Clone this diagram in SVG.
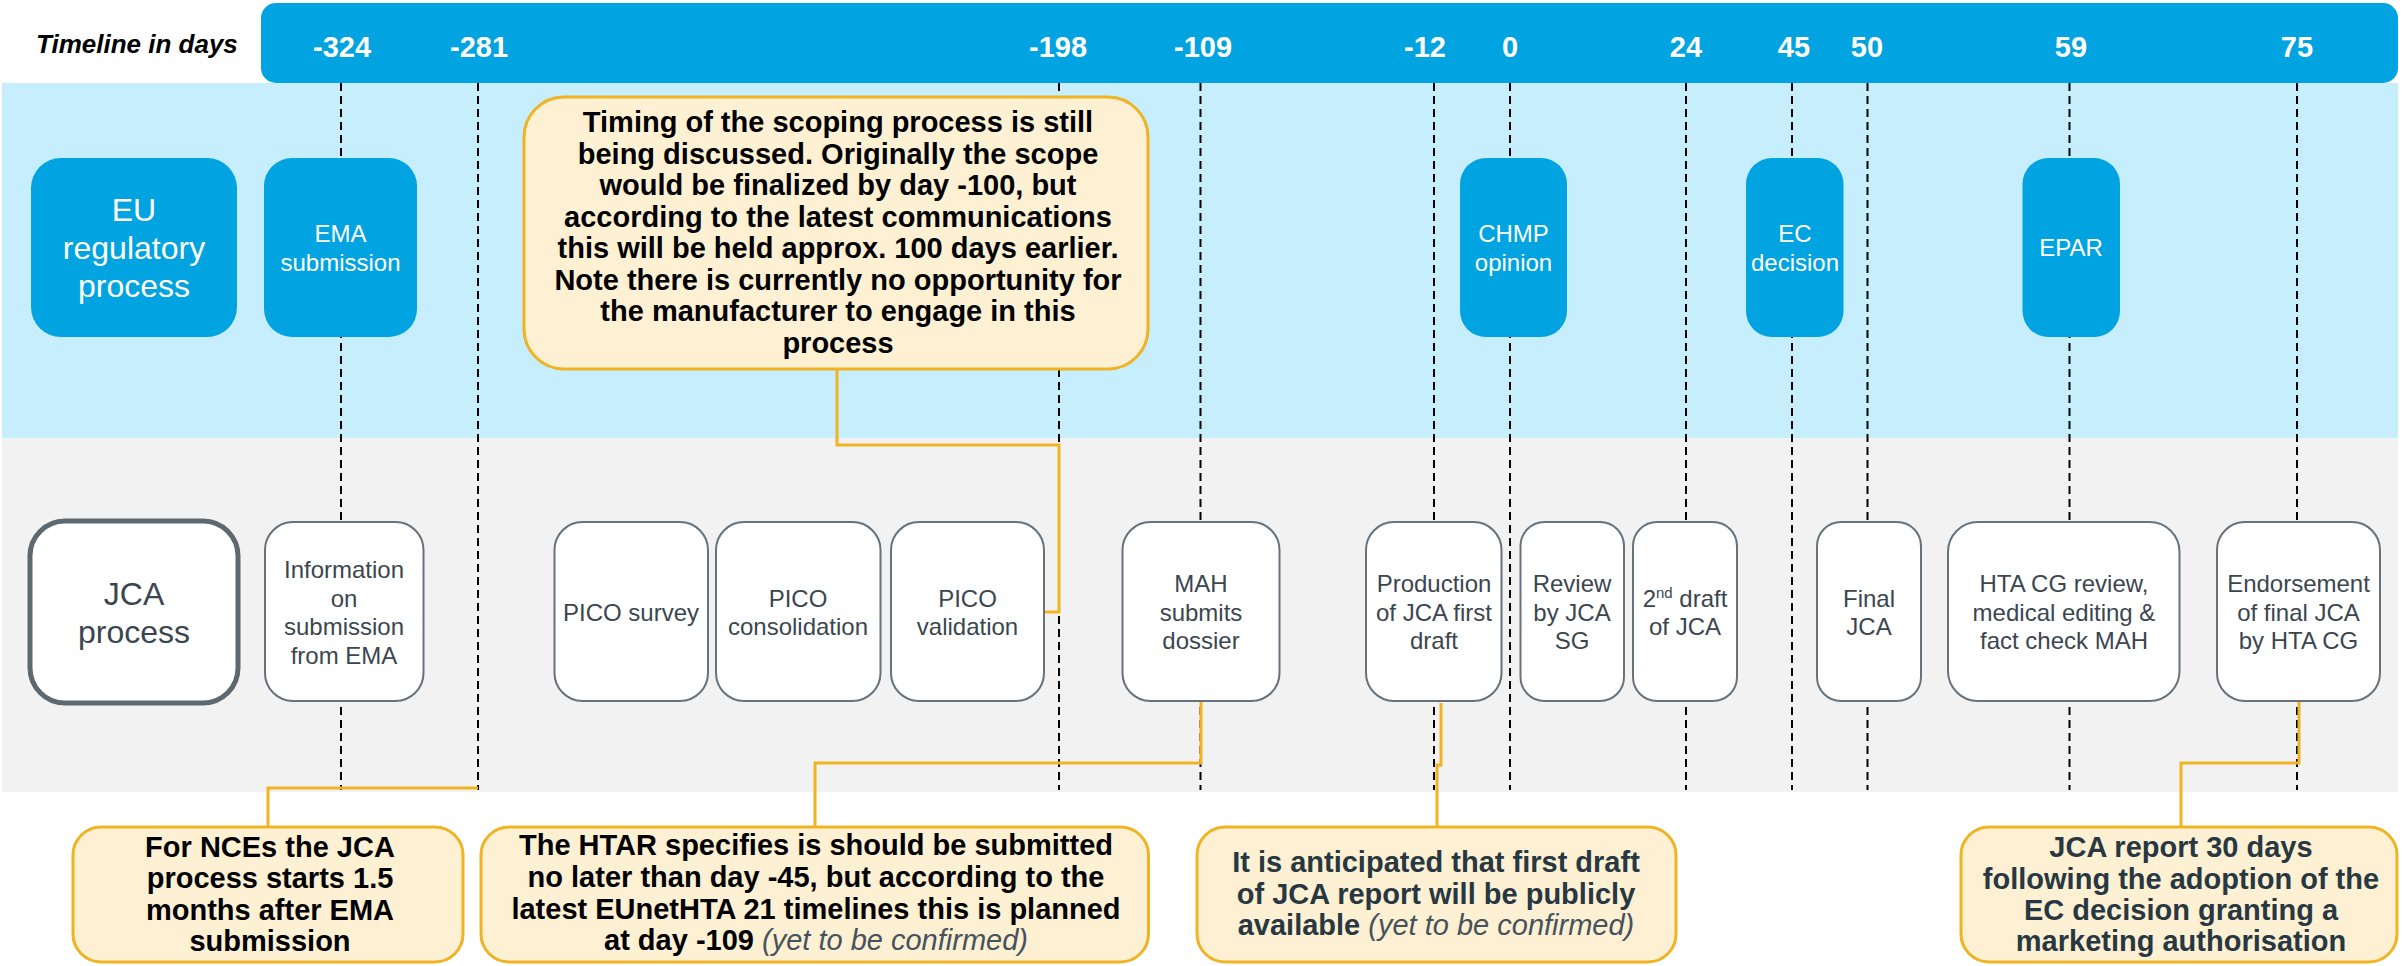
<svg xmlns="http://www.w3.org/2000/svg" width="2402" height="966" viewBox="0 0 2402 966">
<style>
text{font-family:"Liberation Sans",Arial,sans-serif}
.hdr{fill:#fff;font-size:29px;font-weight:bold;text-anchor:middle}
.reg rect{fill:#01A3E0}
.reg text{fill:#fff;font-size:24px;text-anchor:middle}
.jca rect{fill:#fff;stroke:#66727C;stroke-width:2}
.jca text{fill:#3B4650;font-size:24px;text-anchor:middle}
.reg text.big,.jca text.big{font-size:32px}
.note rect{fill:#FDF0D3;stroke:#F0B323;stroke-width:3}
.note text{font-size:29px;font-weight:bold;text-anchor:middle;fill:#000}
.note.dk text{fill:#283842}
.it{font-style:italic;font-weight:normal;fill:#46525C}
.dash{stroke:#000;stroke-width:2;stroke-dasharray:8 5}
.conn path{fill:none;stroke:#F0B323;stroke-width:3}
</style>
<rect x="2" y="83" width="2396" height="355" fill="#C6EEFD"/>
<rect x="2" y="438" width="2396" height="354" fill="#F2F2F2"/>
<g id="timeline">
<rect x="261" y="3" width="2137" height="80" rx="15" fill="#01A3E0"/>
<text x="36" y="53" font-size="26" font-weight="bold" font-style="italic" fill="#000">Timeline in days</text>
<text class="hdr" x="342" y="57">-324</text>
<text class="hdr" x="479" y="57">-281</text>
<text class="hdr" x="1058" y="57">-198</text>
<text class="hdr" x="1203" y="57">-109</text>
<text class="hdr" x="1425" y="57">-12</text>
<text class="hdr" x="1510" y="57">0</text>
<text class="hdr" x="1686" y="57">24</text>
<text class="hdr" x="1794" y="57">45</text>
<text class="hdr" x="1867" y="57">50</text>
<text class="hdr" x="2071" y="57">59</text>
<text class="hdr" x="2297" y="57">75</text>
</g>
<g id="gridlines">
<line class="dash" x1="341" y1="83" x2="341" y2="790"/>
<line class="dash" x1="478" y1="83" x2="478" y2="790"/>
<line class="dash" x1="1059" y1="83" x2="1059" y2="790"/>
<line class="dash" x1="1200.5" y1="83" x2="1200.5" y2="790"/>
<line class="dash" x1="1434" y1="83" x2="1434" y2="790"/>
<line class="dash" x1="1510" y1="83" x2="1510" y2="790"/>
<line class="dash" x1="1686" y1="83" x2="1686" y2="790"/>
<line class="dash" x1="1792" y1="83" x2="1792" y2="790"/>
<line class="dash" x1="1867.5" y1="83" x2="1867.5" y2="790"/>
<line class="dash" x1="2069.5" y1="83" x2="2069.5" y2="790"/>
<line class="dash" x1="2297" y1="83" x2="2297" y2="790"/>
</g>
<g id="connectors" class="conn">
<path d="M837 369 V445 H1059 V612 H1044"/>
<path d="M268 827 V788 H478"/>
<path d="M815 827 V763 H1201 V701"/>
<path d="M1437 827 V765 H1441 V703"/>
<path d="M2181 827 V763 H2299 V701"/>
</g>
<g id="eu-regulatory" class="reg">
<rect x="31" y="158" width="206" height="179" rx="30"/>
<text class="big" x="134" y="221">EU</text>
<text class="big" x="134" y="259">regulatory</text>
<text class="big" x="134" y="297">process</text>
</g>
<g id="ema-submission" class="reg">
<rect x="264" y="158" width="153" height="179" rx="28"/>
<text x="340.5" y="242">EMA</text>
<text x="340.5" y="271">submission</text>
</g>
<g id="chmp-opinion" class="reg">
<rect x="1460" y="158" width="107" height="179" rx="26"/>
<text x="1513.5" y="242">CHMP</text>
<text x="1513.5" y="271">opinion</text>
</g>
<g id="ec-decision" class="reg">
<rect x="1746" y="158" width="97.5" height="179" rx="26"/>
<text x="1795" y="242">EC</text>
<text x="1795" y="271">decision</text>
</g>
<g id="epar" class="reg">
<rect x="2022.5" y="158" width="97.5" height="179" rx="26"/>
<text x="2071" y="256">EPAR</text>
</g>
<g id="jca-process" class="jca">
<rect x="30" y="521" width="208" height="182" rx="35" style="stroke:#5D6870;stroke-width:5"/>
<text class="big" x="134" y="605">JCA</text>
<text class="big" x="134" y="643">process</text>
</g>
<g id="info-ema" class="jca">
<rect x="265" y="522" width="158.5" height="179" rx="28"/>
<text x="344" y="578">Information</text>
<text x="344" y="606.5">on</text>
<text x="344" y="635">submission</text>
<text x="344" y="663.5">from EMA</text>
</g>
<g id="pico-survey" class="jca">
<rect x="554.5" y="522" width="153.5" height="179" rx="28"/>
<text x="631" y="621">PICO survey</text>
</g>
<g id="pico-consolidation" class="jca">
<rect x="716" y="522" width="164.5" height="179" rx="28"/>
<text x="798" y="606.5">PICO</text>
<text x="798" y="635">consolidation</text>
</g>
<g id="pico-validation" class="jca">
<rect x="891" y="522" width="153" height="179" rx="28"/>
<text x="967.5" y="606.5">PICO</text>
<text x="967.5" y="635">validation</text>
</g>
<g id="mah-dossier" class="jca">
<rect x="1122.5" y="522" width="157" height="179" rx="28"/>
<text x="1201" y="592">MAH</text>
<text x="1201" y="620.5">submits</text>
<text x="1201" y="649">dossier</text>
</g>
<g id="first-draft" class="jca">
<rect x="1366" y="522" width="135.5" height="179" rx="28"/>
<text x="1434" y="592">Production</text>
<text x="1434" y="620.5">of JCA first</text>
<text x="1434" y="649">draft</text>
</g>
<g id="review-sg" class="jca">
<rect x="1520.5" y="522" width="103.5" height="179" rx="24"/>
<text x="1572" y="592">Review</text>
<text x="1572" y="620.5">by JCA</text>
<text x="1572" y="649">SG</text>
</g>
<g id="second-draft" class="jca">
<rect x="1633" y="522" width="104" height="179" rx="24"/>
<text x="1685" y="606.5">2<tspan font-size="15" dy="-9">nd</tspan><tspan dy="9"> draft</tspan></text>
<text x="1685" y="635">of JCA</text>
</g>
<g id="final-jca" class="jca">
<rect x="1817" y="522" width="104" height="179" rx="24"/>
<text x="1869" y="606.5">Final</text>
<text x="1869" y="635">JCA</text>
</g>
<g id="hta-review" class="jca">
<rect x="1948" y="522" width="231.5" height="179" rx="30"/>
<text x="2064" y="592">HTA CG review,</text>
<text x="2064" y="620.5">medical editing &amp;</text>
<text x="2064" y="649">fact check MAH</text>
</g>
<g id="endorsement" class="jca">
<rect x="2217" y="522" width="163" height="179" rx="28"/>
<text x="2298.5" y="592">Endorsement</text>
<text x="2298.5" y="620.5">of final JCA</text>
<text x="2298.5" y="649">by HTA CG</text>
</g>
<g id="note-scoping" class="note">
<rect x="524" y="97" width="624" height="272" rx="40"/>
<text x="838" y="132">Timing of the scoping process is still</text>
<text x="838" y="163.5">being discussed. Originally the scope</text>
<text x="838" y="195">would be finalized by day -100, but</text>
<text x="838" y="226.5">according to the latest communications</text>
<text x="838" y="258">this will be held approx. 100 days earlier.</text>
<text x="838" y="289.5">Note there is currently no opportunity for</text>
<text x="838" y="321">the manufacturer to engage in this</text>
<text x="838" y="352.5">process</text>
</g>
<g id="note-nce" class="note">
<rect x="73" y="827" width="390" height="135" rx="28"/>
<text x="270" y="857">For NCEs the JCA</text>
<text x="270" y="888">process starts 1.5</text>
<text x="270" y="919.5">months after EMA</text>
<text x="270" y="951">submission</text>
</g>
<g id="note-htar" class="note">
<rect x="481" y="827" width="667.5" height="135" rx="28"/>
<text x="816" y="855">The HTAR specifies is should be submitted</text>
<text x="816" y="887">no later than day -45, but according to the</text>
<text x="816" y="918.5">latest EUnetHTA 21 timelines this is planned</text>
<text x="816" y="950">at day -109 <tspan class="it">(yet to be confirmed)</tspan></text>
</g>
<g id="note-draft" class="note dk">
<rect x="1197" y="827" width="479" height="135" rx="28"/>
<text x="1436" y="872">It is anticipated that first draft</text>
<text x="1436" y="903.5">of JCA report will be publicly</text>
<text x="1436" y="935">available <tspan class="it">(yet to be confirmed)</tspan></text>
</g>
<g id="note-report" class="note dk">
<rect x="1961" y="827" width="436" height="135" rx="28"/>
<text x="2181" y="857">JCA report 30 days</text>
<text x="2181" y="888.5">following the adoption of the</text>
<text x="2181" y="919.5">EC decision granting a</text>
<text x="2181" y="951">marketing authorisation</text>
</g>
</svg>
